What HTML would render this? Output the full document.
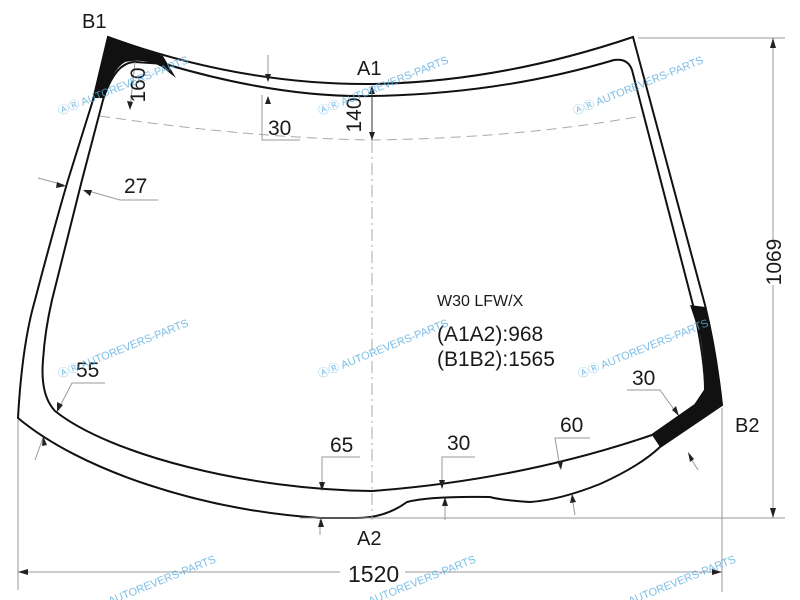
<!DOCTYPE html>
<html><head><meta charset="utf-8"><style>
html,body{margin:0;padding:0;background:#fff;}
svg{display:block;}
text{font-family:"Liberation Sans",Arial,sans-serif;fill:#1a1a1a;}
.wm text{fill:#5aaee0;font-size:11px;opacity:.8;}
</style></head><body>
<svg width="800" height="600" viewBox="0 0 800 600" xmlns="http://www.w3.org/2000/svg">
<rect width="800" height="600" fill="#fff"/>
<!-- outer outline -->
<path d="M108,37 Q240,85 372,84 Q500,82 633,37 L705,305 Q716,350 722,405 L660,447 Q640,466 600,484 Q560,500 530,502 Q500,500 490,497 Q430,496 407,502 Q385,518 357,518 L320,518 C200,510 80,470 18,418 Q22,345 35,300 Q52,235 68,180 L93,100 Z" fill="#fff" stroke="#111" stroke-width="2"/>
<!-- inner outline -->
<path d="M165,64 Q280,98 372,96 Q500,94 614,60 Q628,58 632,70 L693,305 Q705,360 705,390 L695,405 L652,435 Q520,480 372,491 C250,490 110,455 55,411 Q40,395 43,360 Q45,330 52,300 L82,180 L103,100 Q115,62 135,62 Z" fill="#fff" stroke="#111" stroke-width="2"/>
<!-- black areas -->
<path d="M108,37 L163,56 L176,78 L162,67 Q145,58 125,62 Q112,70 104,98 L94,98 L108,37 Z" fill="#111"/>
<path d="M690,305 L705,307 Q716,350 722,405 L660,447 L652,435 L695,405 L705,390 Q705,360 700,335 Z" fill="#111"/>
<!-- extension / dim lines -->
<g stroke="#9a9a9a" stroke-width="1" fill="none">
<line x1="638" y1="38" x2="785" y2="38"/>
<line x1="300" y1="518" x2="785" y2="518"/>
<line x1="773" y1="38" x2="773" y2="240"/>
<line x1="773" y1="285" x2="773" y2="518"/>
<line x1="18" y1="420" x2="18" y2="590"/>
<line x1="722" y1="408" x2="722" y2="592"/>
<line x1="18" y1="572" x2="340" y2="572"/>
<line x1="405" y1="572" x2="722" y2="572"/>
<path d="M100,116 Q250,138 372,140 Q520,138 642,116" stroke-dasharray="10,6" stroke="#aaa"/>
<line x1="372" y1="97" x2="372" y2="520" stroke-dasharray="12,4,2,4" stroke="#aaa"/>
<polyline points="262,95 262,140 300,140"/>
<line x1="268" y1="55" x2="268" y2="80"/>
<polyline points="135,62 130,108"/>
<polyline points="38,178 64,185"/>
<polyline points="85,190 120,200 158,200"/>
<polyline points="105,383 72,383 58,410"/>
<polyline points="35,460 43,438"/>
<polyline points="360,457 322,457 322,490"/>
<line x1="320" y1="520" x2="320" y2="535"/>
<polyline points="475,457 442,457 442,488"/>
<line x1="445" y1="500" x2="445" y2="520"/>
<polyline points="590,438 555,438 560,468"/>
<line x1="572" y1="497" x2="575" y2="515"/>
<polyline points="627,390 660,390 678,415"/>
<line x1="690" y1="457" x2="698" y2="470"/>
</g>
<line x1="372" y1="86" x2="372" y2="140" stroke="#333" stroke-width="1"/>
<!-- arrowheads -->
<g fill="#222">
<polygon points="773,38 770,48 776,48"/>
<polygon points="773,518 770,508 776,508"/>
<polygon points="18,572 28,569 28,575"/>
<polygon points="722,572 712,569 712,575"/>
<polygon points="372,86 369,94 375,94"/>
<polygon points="372,140 369,132 375,132"/>
<polygon points="130,110 127,101 133,102"/>
<polygon points="268,82 265,74 271,74"/>
<polygon points="268,96 265,104 271,104"/>
<polygon points="66,186 57,182 56,188"/>
<polygon points="83,190 92,190 90,196"/>
<polygon points="57,412 57,402 63,405"/>
<polygon points="43,436 42,446 47,445"/>
<polygon points="322,491 319,482 325,482"/>
<polygon points="321,518 318,527 324,527"/>
<polygon points="442,489 439,480 445,480"/>
<polygon points="445,497 442,506 448,506"/>
<polygon points="561,470 557,461 563,461"/>
<polygon points="572,494 570,503 576,502"/>
<polygon points="679,416 672,410 676,406"/>
<polygon points="688,452 694,459 690,462"/>
</g>
<!-- text -->
<text x="82" y="28" font-size="20">B1</text>
<text x="357" y="75" font-size="20">A1</text>
<text x="357" y="545" font-size="20">A2</text>
<text x="735" y="432" font-size="20">B2</text>
<text x="437" y="306" font-size="16">W30 LFW/X</text>
<text x="437" y="341" font-size="21">(A1A2):968</text>
<text x="437" y="366" font-size="21">(B1B2):1565</text>
<text x="268" y="135" font-size="21">30</text>
<text x="124" y="193" font-size="21">27</text>
<text x="76" y="377" font-size="21">55</text>
<text x="330" y="452" font-size="21">65</text>
<text x="447" y="450" font-size="21">30</text>
<text x="560" y="432" font-size="21">60</text>
<text x="632" y="385" font-size="21">30</text>
<rect x="342" y="560" width="62" height="24" fill="#fff"/>
<text x="348" y="582" font-size="23">1520</text>
<text transform="translate(145,85) rotate(-90)" text-anchor="middle" font-size="21">160</text>
<text transform="translate(361,115) rotate(-90)" text-anchor="middle" font-size="21">140</text>
<text transform="translate(781,262) rotate(-90)" text-anchor="middle" font-size="21">1069</text>
<!-- watermarks -->
<g class="wm">
<text transform="translate(60,115) rotate(-22)">ⒶⓇ AUTOREVERS-PARTS</text>
<text transform="translate(320,115) rotate(-22)">ⒶⓇ AUTOREVERS-PARTS</text>
<text transform="translate(575,115) rotate(-22)">ⒶⓇ AUTOREVERS-PARTS</text>
<text transform="translate(60,378) rotate(-22)">ⒶⓇ AUTOREVERS-PARTS</text>
<text transform="translate(320,378) rotate(-22)">ⒶⓇ AUTOREVERS-PARTS</text>
<text transform="translate(580,378) rotate(-22)">ⒶⓇ AUTOREVERS-PARTS</text>
<text transform="translate(110,605) rotate(-22)">AUTOREVERS-PARTS</text>
<text transform="translate(370,605) rotate(-22)">AUTOREVERS-PARTS</text>
<text transform="translate(630,605) rotate(-22)">AUTOREVERS-PARTS</text>
</g>
</svg>
</body></html>
